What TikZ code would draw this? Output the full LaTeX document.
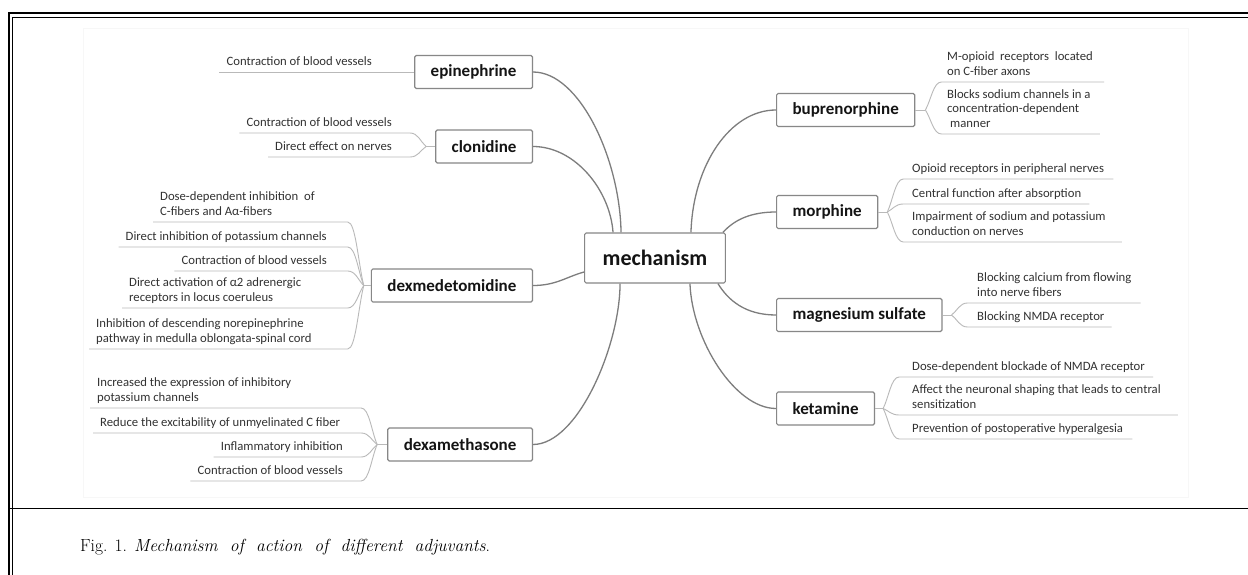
\documentclass[tikz,border=0pt]{standalone}
\usepackage{fontspec}
\newfontfamily\mmfont{Carlito}
\usetikzlibrary{calc}
\definecolor{boxgray}{RGB}{135,135,135}
\definecolor{conngray}{RGB}{125,125,125}
\definecolor{leafgray}{RGB}{185,185,185}
\definecolor{txtdark}{RGB}{20,20,20}
\definecolor{leaftxt}{RGB}{50,50,50}
\newcommand\leafL[6]{%
  \node[leaf,anchor=#3] (#1) at (#4,#5-2) {#6\strut};
  \coordinate (#1y) at (0,#5);
  \path (#2) ++(-16,0) coordinate (#1x);
  \coordinate (#1e) at (#1x |- #1y);
  \draw[leafline] (#2) .. controls ($(#2)!0.35!(#1e)$) and ($(#1e)!0.5!(#2|-#1e)$) .. (#1e) -- ($(#1.south west)+(-7,2)$);
}
\newcommand\leafR[6]{%
  \node[leaf,anchor=south west] (#1) at (#3,#4-2) {#6\strut};
  \coordinate (#1y) at (0,#4);
  \path (#2) ++(16,0) coordinate (#1x);
  \coordinate (#1e) at (#1x |- #1y);
  \draw[leafline] (#2) .. controls ($(#2)!0.35!(#1e)$) and ($(#1e)!0.5!(#2|-#1e)$) .. (#1e) -- ($(#1.south east)+(#5,2)$);
}
\begin{document}
\begin{tikzpicture}[x=1pt,y=-1pt,
  box/.style={draw=boxgray, line width=1.2pt, rounded corners=1.5pt, fill=white,
    font=\mmfont\bfseries\fontsize{17}{20}\selectfont, text=txtdark,
    inner xsep=16pt, inner ysep=0pt, minimum height=33pt},
  rootbox/.style={box, font=\mmfont\bfseries\fontsize{22}{26}\selectfont,
    inner xsep=18pt, minimum height=50pt},
  leaf/.style={inner sep=0pt, font=\mmfont\fontsize{12.7}{14.5}\selectfont,
    text=leaftxt, align=left},
  conn/.style={draw=conngray, line width=1.3pt},
  leafline/.style={draw=leafgray, line width=0.9pt}]
\useasboundingbox (0,0) rectangle (1248,575);
\fill[white] (0,0) rectangle (1248,575);
% screenshot area
\draw[black!3, line width=0.6pt] (83,28) rectangle (1188,497);
% frame
\draw[line width=2pt] (8.5,575) -- (8.5,13.5) -- (1248,13.5);
\draw[line width=0.9pt] (12.5,575) -- (12.5,17.5) -- (1248,17.5);
\draw[line width=1.5pt] (8.5,508.5) -- (1248,508.5);

% nodes
\node[rootbox] (mech) at (655,258) {mechanism};
\node[box,anchor=east] (epi) at (533,72) {epinephrine};
\node[box,anchor=east] (clo) at (533,146.5) {clonidine};
\node[box,anchor=east] (dxm) at (533,285.5) {dexmedetomidine};
\node[box,anchor=east] (dxa) at (533,444.5) {dexamethasone};
\node[box,anchor=west] (bup) at (776,110) {buprenorphine};
\node[box,anchor=west] (mor) at (776,212) {morphine};
\node[box,anchor=west] (mag) at (776,315) {magnesium sulfate};
\node[box,anchor=west] (ket) at (776,408.5) {ketamine};

% main connectors
\draw[conn] (epi.east) .. controls (580,72) and (620,160) .. ([xshift=37pt]mech.north west);
\draw[conn] (clo.east) .. controls (575,146.5) and (610,190) .. ([xshift=29pt]mech.north west);
\draw[conn] (dxm.east) .. controls (556,285.5) and (566,277) .. ([yshift=-14pt]mech.west);
\draw[conn] (dxa.east) .. controls (578,444.5) and (620,345) .. ([xshift=36pt]mech.south west);
\draw[conn] (bup.west) .. controls (730,110) and (693,165) .. ([xshift=-35pt]mech.north east);
\draw[conn] (mor.west) .. controls (752,212) and (735,219) .. ([xshift=-3pt]mech.north east);
\draw[conn] (mag.west) .. controls (745,315) and (728,300) .. ([xshift=-8pt]mech.south east);
\draw[conn] (ket.west) .. controls (735,408.5) and (692,340) .. ([xshift=-36pt]mech.south east);

% junctions
\path (clo.west) ++(-9,0) coordinate (Jc);
\path (dxm.west) ++(-7,0) coordinate (Jd);
\path (dxa.west) ++(-10,0) coordinate (Jx);
\path (bup.east) ++(10,0) coordinate (Jb);
\path (mor.east) ++(9,0) coordinate (Jm);
\path (mag.east) ++(9,0) coordinate (Jg);
\path (ket.east) ++(8,0) coordinate (Jk);
\draw[leafline] (clo.west) -- (Jc);
\draw[leafline] (dxm.west) -- (Jd);
\draw[leafline] (dxa.west) -- (Jx);
\draw[leafline] (bup.east) -- (Jb);
\draw[leafline] (mor.east) -- (Jm);
\draw[leafline] (mag.east) -- (Jg);
\draw[leafline] (ket.east) -- (Jk);

% epinephrine leaf
\node[leaf,anchor=south east] (e1) at (372,70) {Contraction of blood vessels\strut};
\draw[leafline] ($(e1.south west)+(-7,2)$) -- (epi.west);

% clonidine leaves
\leafL{c1}{Jc}{south east}{392}{133}{Contraction of blood vessels}
\leafL{c2}{Jc}{south east}{392}{157}{Direct effect on nerves}

% dexmedetomidine leaves
\leafL{d1}{Jd}{south west}{160}{222}{Dose-dependent inhibition\ \ of\\C-fibers and Aα-fibers}
\leafL{d2}{Jd}{south east}{327}{247}{Direct inhibition of potassium channels}
\leafL{d3}{Jd}{south east}{327}{271}{Contraction of blood vessels}
\leafL{d4}{Jd}{south west}{129}{308}{Direct activation of α2 adrenergic\\receptors in locus coeruleus}
\leafL{d5}{Jd}{south west}{96}{349}{Inhibition of descending norepinephrine\\pathway in medulla oblongata-spinal cord}

% dexamethasone leaves
\leafL{x1}{Jx}{south west}{97}{408}{Increased the expression of inhibitory\\potassium channels}
\leafL{x2}{Jx}{south west}{100}{433}{Reduce the excitability of unmyelinated C fiber}
\leafL{x3}{Jx}{south east}{343}{457}{Inflammatory inhibition}
\leafL{x4}{Jx}{south east}{343}{481}{Contraction of blood vessels}

% buprenorphine leaves
\leafR{b1}{Jb}{947}{82}{11}{M-opioid\ \ receptors\ \ located\\on C-fiber axons}
\leafR{b2}{Jb}{947}{134}{9}{Blocks sodium channels in a\\concentration-dependent\\\hspace*{3pt}manner}

% morphine leaves
\leafR{m1}{Jm}{912}{179}{9}{Opioid receptors in peripheral nerves}
\leafR{m2}{Jm}{912}{204}{8}{Central function after absorption}
\leafR{m3}{Jm}{912}{242}{16}{Impairment of sodium and potassium\\conduction on nerves}

% magnesium sulfate leaves
\leafR{g1}{Jg}{977}{303}{9}{Blocking calcium from flowing\\into nerve fibers}
\leafR{g2}{Jg}{977}{327}{7}{Blocking NMDA receptor}

% ketamine leaves
\leafR{k1}{Jk}{912}{377}{8}{Dose-dependent blockade of NMDA receptor}
\leafR{k2}{Jk}{912}{415}{17}{Affect the neuronal shaping that leads to central\\sensitization}
\leafR{k3}{Jk}{912}{439}{9}{Prevention of postoperative hyperalgesia}

% caption
\node[anchor=base west, inner sep=0pt, font=\fontsize{17.5}{21}\selectfont] (cap) at (80,551)
  {Fig. 1. \textit{Mechanism~ of~ action~ of~ different~ adjuvants}.};
\end{tikzpicture}
\end{document}
